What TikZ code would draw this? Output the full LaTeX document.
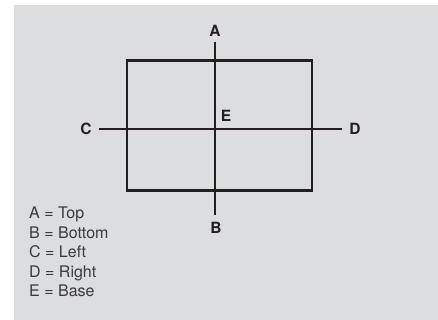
\documentclass[tikz,border=0pt]{standalone}
\usepackage{fontspec}
\setmainfont{TeX Gyre Heros}
\definecolor{panelgray}{HTML}{DCDDDF}
\definecolor{linedark}{HTML}{231F20}
\definecolor{textgray}{HTML}{3A3A3C}
\tikzset{
  axisline/.style={draw=linedark,line width=2.9pt},
  letter/.style={font=\fontsize{15.5}{18}\selectfont\bfseries,text=linedark,inner sep=0pt},
  legend/.style={font=\fontsize{16}{18}\selectfont,text=textgray,anchor=base west,inner sep=0pt}
}
\begin{document}
\begin{tikzpicture}[x=1pt,y=-1pt]
                \useasboundingbox (0,0) rectangle (438,320);
                \fill[panelgray] (14,5) rectangle (438,320);

                % frame and the two axes
                \draw[axisline] (127,60.5) rectangle (312,190.5);
                \coordinate (topend) at (215,42);
                \coordinate (bottomend) at (215,215);
                \coordinate (leftend) at (99,129);
                \coordinate (rightend) at (342,129);
                \draw[axisline] (topend) -- (bottomend);
                \draw[axisline] (leftend) -- (rightend);

                \node[letter] (A) at (215,31) {A};
                \node[letter] (B) at (216,228) {B};
                \node[letter] (C) at (86,129) {C};
                \node[letter] (D) at (355,129) {D};
                \node[letter] (E) at (226,116) {E};

                \node[legend] (top) at (29,218.5) {A = Top};
                \node[legend] (bottom) at (29,238) {B = Bottom};
                \node[legend] (left) at (29,257.5) {C = Left};
                \node[legend] (right) at (29,277) {D = Right};
                \node[legend] (base) at (29,296.5) {E = Base};

            \end{tikzpicture}
\end{document}
